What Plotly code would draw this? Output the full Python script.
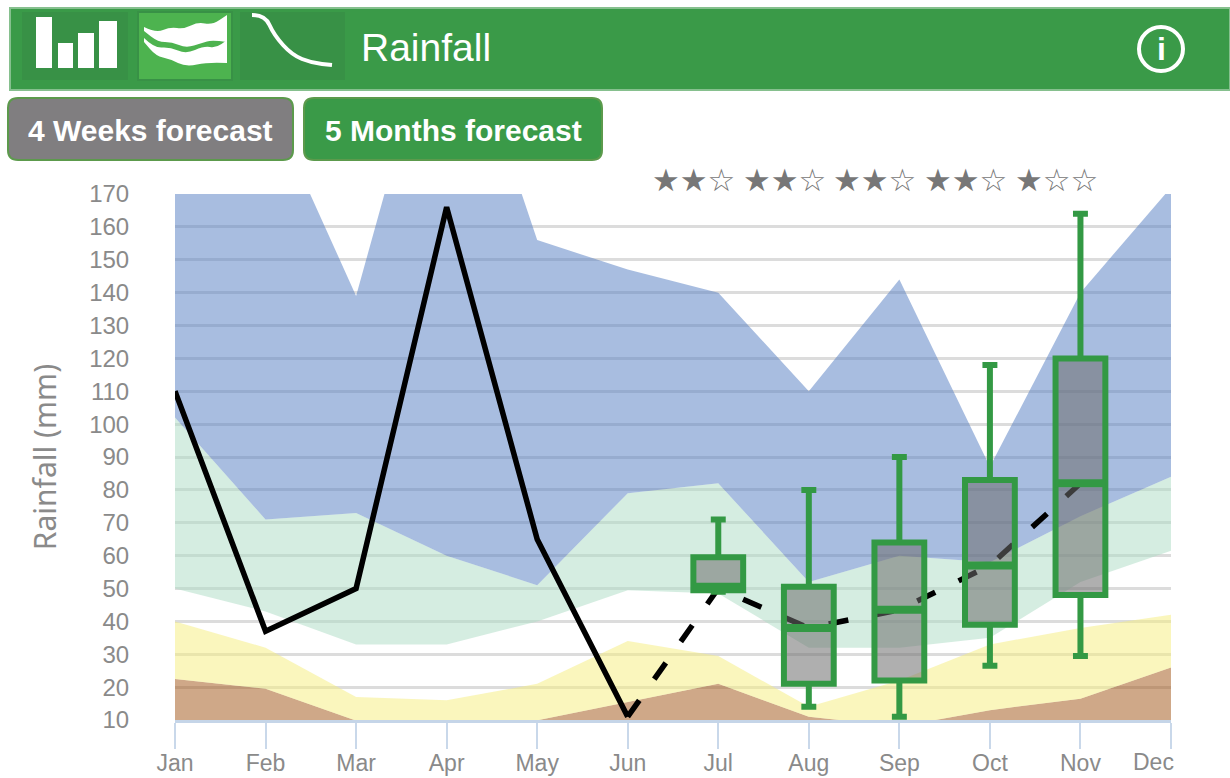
import plotly.graph_objects as go

W, H = 1230, 778
L, R, T, B = 175, 1171, 194, 720

months = ["Jan","Feb","Mar","Apr","May","Jun","Jul","Aug","Sep","Oct","Nov","Dec"]
y_ticks = list(range(10, 180, 10))
xi = list(range(12))

blue_top = [260, 200, 139, 238, 156, 147, 140, 110, 144, 87, 140, 172]
green_top = [102, 71, 73, 60, 51, 79, 82, 52, 60, 58, 72, 84]
green_bottom = [50, 43, 33, 33, 40, 49.5, 48.5, 32, 32, 35, 52, 61.5]
yellow_top = [40, 32, 17, 16, 21, 34, 29.5, 14, 22, 33, 38, 42]
brown_top = [22.5, 19.5, 9.8, 8, 9.9, 15.5, 21, 11, 8, 13, 16.5, 26]

observed = [110, 37, 50, 166, 65, 11]
forecast_median = [11, 50, 38, 43.5, 57, 82]

box_months = ["Jul", "Aug", "Sep", "Oct", "Nov"]
box_low = [49, 14, 11, 26.5, 29.5]
box_q1 = [49.5, 21, 22, 39, 48]
box_med = [50.5, 38, 43.5, 57, 82]
box_q3 = [59.5, 50.5, 64, 83, 120]
box_high = [71, 80, 90, 118, 164]
star_ratings = [2, 2, 2, 2, 1]

BLUE, GREEN, YELLOW, BROWN = ("rgba(81,123,193,.5)", "rgba(171,219,195,.5)",
                              "rgba(245,237,123,.5)", "rgba(159,81,17,.5)")
HDR = "#3a9a48"
BOX = "#339944"
GREY = "#8a8a8a"
SANS = "Liberation Sans"

fx = lambda x: (x - L) / (R - L)
fy = lambda y: (B - y) / (B - T)
a = lambda x, y: f"{fx(x):.5f},{fy(y):.5f}"


def smooth(pts, move=True):
    d = ("M " if move else "L ") + a(*pts[0])
    for i in range(1, len(pts) - 1):
        mx, my = (pts[i][0] + pts[i + 1][0]) / 2, (pts[i][1] + pts[i + 1][1]) / 2
        d += f" Q {a(*pts[i])} {a(mx, my)}"
    return d + " L " + a(*pts[-1])


def rrect(x0, y0, x1, y1, r):
    return (f"M {a(x0+r,y0)} L {a(x1-r,y0)} Q {a(x1,y0)} {a(x1,y0+r)} L {a(x1,y1-r)} "
            f"Q {a(x1,y1)} {a(x1-r,y1)} L {a(x0+r,y1)} Q {a(x0,y1)} {a(x0,y1-r)} "
            f"L {a(x0,y0+r)} Q {a(x0,y0)} {a(x0+r,y0)} Z")


def band(y, fill=None, color=None):
    return go.Scatter(x=xi, y=y, mode="lines", line=dict(width=0), fill=fill,
                      fillcolor=color, hoverinfo="skip", showlegend=False)


fig = go.Figure()
fig.add_trace(band(brown_top, "tozeroy", BROWN))
fig.add_trace(band(brown_top))
fig.add_trace(band(yellow_top, "tonexty", YELLOW))
fig.add_trace(band(green_bottom))
fig.add_trace(band(green_top, "tonexty", GREEN))
fig.add_trace(band(green_top))
fig.add_trace(band(blue_top, "tonexty", BLUE))

fig.add_trace(go.Scatter(x=xi[:6], y=observed, mode="lines",
                         line=dict(color="#000", width=5.5), showlegend=False))
fig.add_trace(go.Scatter(x=xi[5:11], y=forecast_median, mode="lines",
                         line=dict(color="#000", width=5.5, dash="20px,26px"), showlegend=False))

box_x = [months.index(m) for m in box_months]
fig.add_trace(go.Box(x=box_x, q1=box_q1, median=box_med, q3=box_q3, lowerfence=box_low,
                     upperfence=box_high, width=0.55, whiskerwidth=0.3, boxpoints=False,
                     fillcolor="rgba(110,110,110,.55)", line=dict(color=BOX, width=6),
                     xaxis="x2", yaxis="y2", showlegend=False))
fig.add_trace(go.Box(x=box_x, q1=box_med, median=box_med, q3=box_med, lowerfence=box_med,
                     upperfence=box_med, width=0.55, boxpoints=False,
                     fillcolor="rgba(0,0,0,0)", line=dict(color=BOX, width=8),
                     xaxis="x2", yaxis="y2", showlegend=False))

shapes = [
    dict(type="rect", xref="paper", yref="paper", x0=fx(10), x1=fx(1230), y0=fy(8), y1=fy(90),
         fillcolor=HDR, line=dict(color="#86c08e", width=2)),
    dict(type="rect", xref="paper", yref="paper", x0=fx(22), x1=fx(128), y0=fy(12), y1=fy(80),
         fillcolor="#389146", line=dict(width=0)),
    dict(type="rect", xref="paper", yref="paper", x0=fx(138), x1=fx(232), y0=fy(12), y1=fy(80),
         fillcolor="#4db34f", line=dict(color="#389146", width=2)),
    dict(type="rect", xref="paper", yref="paper", x0=fx(240), x1=fx(345), y0=fy(12), y1=fy(80),
         fillcolor="#389146", line=dict(width=0)),
]
for x0, x1, y0 in [(36, 52, 17), (58, 73, 43), (78, 94, 33), (99, 117, 21)]:
    shapes.append(dict(type="rect", xref="paper", yref="paper", x0=fx(x0), x1=fx(x1),
                       y0=fy(y0), y1=fy(68), fillcolor="#fff", line=dict(width=0)))
wave1_top = [(144, 27), (156, 33), (170, 27), (184, 29), (198, 22), (212, 25), (227, 15)]
wave1_bot = [(227, 42), (212, 40), (202, 43), (186, 48), (172, 42), (158, 42), (144, 31)]
wave2_top = [(144, 38), (154, 48), (170, 47), (186, 54), (204, 46), (216, 48), (227, 40)]
wave2_bot = [(227, 63), (208, 62), (186, 67), (170, 59), (156, 56), (144, 42)]
for top, bot in ((wave1_top, wave1_bot), (wave2_top, wave2_bot)):
    shapes.append(dict(type="path", xref="paper", yref="paper",
                       path=smooth(top) + " " + smooth(bot, False) + " Z",
                       fillcolor="#fff", line=dict(width=0)))
curve = [(252, 15), (265, 15), (274, 35), (292, 55), (312, 63), (332, 65)]
shapes.append(dict(type="path", xref="paper", yref="paper", path=smooth(curve),
                   line=dict(color="#fff", width=4)))
shapes.append(dict(type="circle", xref="paper", yref="paper", x0=fx(1139), x1=fx(1183),
                   y0=fy(27), y1=fy(71), line=dict(color="#fff", width=4)))
shapes.append(dict(type="path", xref="paper", yref="paper", path=rrect(8, 98, 293, 160, 10),
                   fillcolor="#807e80", line=dict(color="#5c9a4c", width=2)))
shapes.append(dict(type="path", xref="paper", yref="paper", path=rrect(304, 98, 602, 160, 10),
                   fillcolor=HDR, line=dict(color="#5c9a4c", width=2)))

ann = [
    dict(text="Rainfall", x=fx(359), y=fy(48), xanchor="left",
         font=dict(family=SANS, size=39, color="#fff")),
    dict(text="<b>i</b>", x=fx(1161), y=fy(49), xanchor="center",
         font=dict(family=SANS, size=32, color="#fff")),
    dict(text="<b>4 Weeks forecast</b>", x=fx(150.5), y=fy(130), xanchor="center",
         font=dict(family=SANS, size=30, color="#fff")),
    dict(text="<b>5 Months forecast</b>", x=fx(453), y=fy(130), xanchor="center",
         font=dict(family=SANS, size=30, color="#fff")),
    dict(text="Dec", x=fx(1176), y=fy(762), xanchor="right",
         font=dict(family=SANS, size=23, color=GREY)),
]
for an in ann:
    an.update(xref="paper", yref="paper", yanchor="middle", showarrow=False)
for m, r in zip(box_x, star_ratings):
    ann.append(dict(text="★" * r + "☆" * (3 - r), x=m - 0.27, y=170, xref="x", yref="y",
                    yanchor="bottom", xanchor="center", showarrow=False, yshift=-6,
                    font=dict(family="DejaVu Sans", size=31, color="#777")))

fig.update_layout(
    width=W, height=H, margin=dict(l=L, r=W - R, t=T, b=H - B, pad=0),
    paper_bgcolor="#fff", plot_bgcolor="#fff", showlegend=False,
    shapes=shapes, annotations=ann,
    xaxis=dict(range=[0, 11], tickvals=xi, ticktext=months[:-1] + [""], showgrid=False,
               automargin=False, zeroline=False, showline=True, linecolor="#c5d5e8", linewidth=3,
               ticks="outside", ticklen=26, tickwidth=2, tickcolor="#c9d8ea",
               ticklabelstandoff=-6,
               tickfont=dict(family=SANS, size=23, color=GREY)),
    yaxis=dict(range=[10, 170], tickvals=y_ticks, gridcolor="#dcdcdc", gridwidth=3,
               automargin=False, zeroline=False, showline=False, ticks="outside", ticklen=40,
               tickcolor="rgba(0,0,0,0)",
               tickfont=dict(family=SANS, size=24, color=GREY),
               title=dict(text="Rainfall (mm)", standoff=23,
                          font=dict(family="Noto Sans", size=30, color=GREY))),
    xaxis2=dict(range=[0, 11], overlaying="x", visible=False),
    yaxis2=dict(range=[10, 170], overlaying="y", visible=False),
)
fig.write_html("out.html", config=dict(displayModeBar=False),
               post_script="document.body.style.margin='0';")
